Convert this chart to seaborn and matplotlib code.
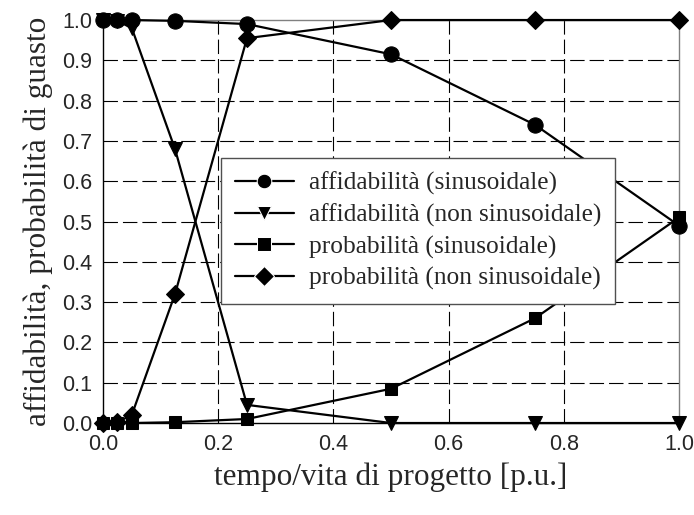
import matplotlib
matplotlib.use("Agg")
import matplotlib.pyplot as plt
import seaborn as sns
import pandas as pd

# tempo normalizzato sulla vita di progetto
tempo = [0.0, 0.025, 0.05, 0.125, 0.25, 0.5, 0.75, 1.0]

aff_sin = [1.0, 1.0, 1.0, 0.998, 0.99, 0.915, 0.74, 0.49]
aff_nonsin = [1.0, 0.998, 0.98, 0.68, 0.045, 0.0, 0.0, 0.0]
prob_sin = [0.0, 0.0, 0.0, 0.002, 0.01, 0.085, 0.26, 0.51]
prob_nonsin = [0.0, 0.002, 0.02, 0.32, 0.955, 1.0, 1.0, 1.0]

serie = [
    "affidabilità (sinusoidale)",
    "affidabilità (non sinusoidale)",
    "probabilità (sinusoidale)",
    "probabilità (non sinusoidale)",
]
marcatori = ["o", "v", "s", "D"]
dimensioni = [11, 10, 9, 9.5]

x_ticks = [0.0, 0.2, 0.4, 0.6, 0.8, 1.0]
y_ticks = [0.0, 0.1, 0.2, 0.3, 0.4, 0.5, 0.6, 0.7, 0.8, 0.9, 1.0]

x_label = "tempo/vita di progetto [p.u.]"
y_label = "affidabilità, probabilità di guasto"

valori = [aff_sin, aff_nonsin, prob_sin, prob_nonsin]
df = pd.DataFrame({
    "tempo": tempo * len(serie),
    "valore": [v for vals in valori for v in vals],
    "serie": [s for s in serie for _ in tempo],
})

sns.set_style("white")
plt.rcParams["font.family"] = ["Liberation Sans", "DejaVu Sans"]

fig = plt.figure(figsize=(6.94, 5.15), dpi=100)
ax = fig.add_axes([0.1484, 0.1786, 0.8300, 0.7825])

sns.lineplot(
    data=df, x="tempo", y="valore", hue="serie", style="serie",
    hue_order=serie, style_order=serie,
    palette=["black"] * 4, markers=dict(zip(serie, marcatori)),
    dashes=False, linewidth=1.6, ax=ax, legend=True,
)

for line, ms in zip(ax.lines[:4], dimensioni):
    line.set_markersize(ms)
    line.set_markeredgecolor("black")
    line.set_markerfacecolor("black")
    line.set_clip_on(False)
    line.set_zorder(5)

ax.set_xlim(0, 1)
ax.set_ylim(0, 1)
ax.set_xticks(x_ticks)
ax.set_yticks(y_ticks)
ax.set_xticklabels([f"{v:.1f}" for v in x_ticks])
ax.set_yticklabels([f"{v:.1f}" for v in y_ticks])
ax.tick_params(axis="both", labelsize=15.5, direction="out", length=5,
               width=1, color="black", pad=3)

# griglia tratteggiata
for v in y_ticks[1:-1]:
    ax.axhline(v, color="black", lw=0.8, ls=(0, (13, 4.5)), zorder=1)
for v in x_ticks[1:-1]:
    ax.axvline(v, color="black", lw=0.8, ls=(0, (13, 4.5)), zorder=1)

for side in ["left", "bottom"]:
    ax.spines[side].set_color("black")
    ax.spines[side].set_linewidth(1.0)
for side in ["right", "top"]:
    ax.spines[side].set_color("#808080")
    ax.spines[side].set_linewidth(1.0)

serif = ["Liberation Serif", "DejaVu Serif"]
ax.set_xlabel(x_label, fontsize=22.5, family=serif, labelpad=5)
ax.set_ylabel(y_label, fontsize=22.5, family=serif, labelpad=6)

handles, labels = ax.get_legend_handles_labels()
for h in handles:
    h.set_markersize(10.5)
leg = ax.legend(
    handles[:4], labels[:4], loc="upper left", bbox_to_anchor=(0.205, 0.658),
    borderaxespad=0, prop={"family": serif, "size": 18.3}, frameon=True,
    fancybox=False, framealpha=1, edgecolor="#505050", handlelength=2.3,
    labelspacing=0.33, borderpad=0.55, handletextpad=0.6,
)
leg.get_frame().set_linewidth(1.0)
leg.set_zorder(10)

fig.savefig("out.png", dpi=100)
